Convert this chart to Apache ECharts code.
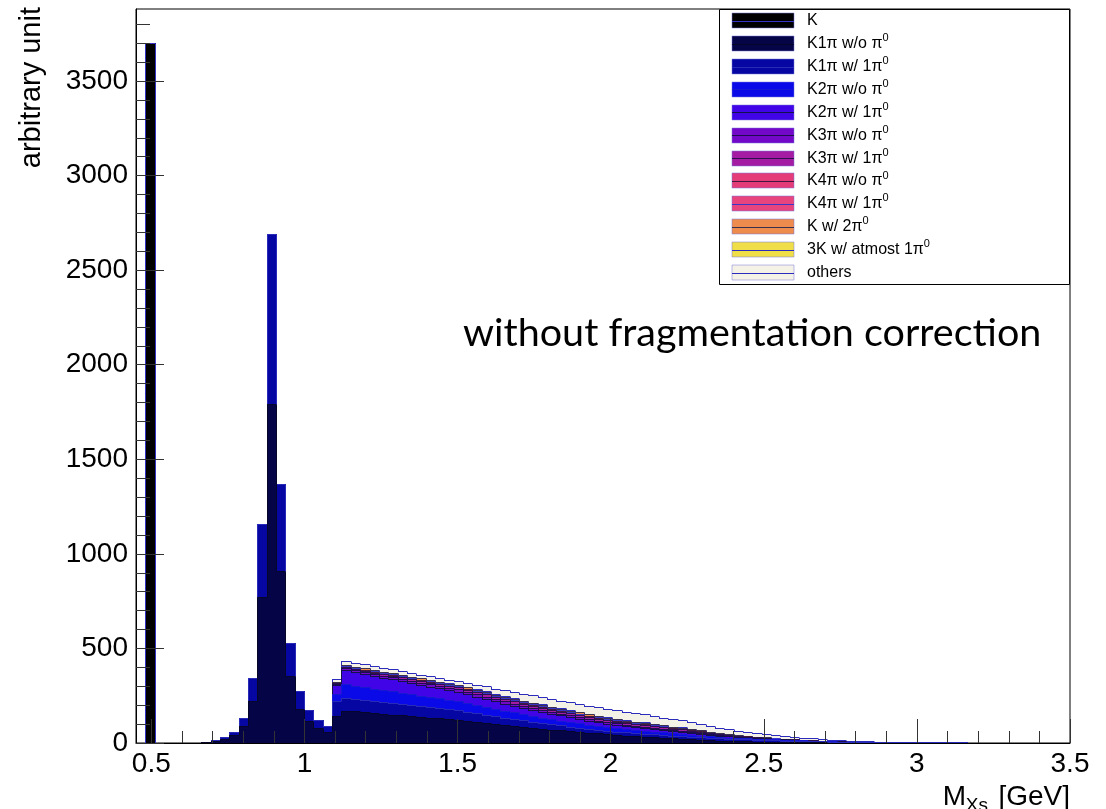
<!DOCTYPE html>
<html><head><meta charset="utf-8">
<script src="https://cdn.jsdelivr.net/npm/echarts@6/dist/echarts.min.js"></script>
<style>html,body{margin:0;padding:0;background:#fff}#c{width:1106px;height:809px}</style>
</head><body><div id="c"></div>
<script>
// ---- binning (histogram 100 bins from 0.45 to 3.5 GeV)
const BIN_LO = 0.45;
const BIN_W = 0.0305;
const NBINS = 100;
const X_MIN = 0.45, X_MAX = 3.5, Y_MIN = 0, Y_MAX = 3881;

const X_MAJOR = [0.5, 1, 1.5, 2, 2.5, 3, 3.5];
const X_MINOR = [0.5,0.6,0.7,0.8,0.9,1.0,1.1,1.2,1.3,1.4,1.5,1.6,1.7,1.8,1.9,2.0,2.1,2.2,2.3,2.4,2.5,2.6,2.7,2.8,2.9,3.0,3.1,3.2,3.3,3.4,3.5];
const Y_MAJOR = [0, 500, 1000, 1500, 2000, 2500, 3000, 3500];
const Y_MINOR = [100,200,300,400,600,700,800,900,1100,1200,1300,1400,1600,1700,1800,1900,2100,2200,2300,2400,2600,2700,2800,2900,3100,3200,3300,3400,3600,3700,3800];

const NAMES = ['K','K1π w/o π^0','K1π w/ 1π^0','K2π w/o π^0','K2π w/ 1π^0','K3π w/o π^0','K3π w/ 1π^0','K4π w/o π^0','K4π w/ 1π^0','K w/ 2π^0','3K w/ atmost 1π^0','others'];

// ---- per-bin contents (index = bin number)
const V_K = [0,3696];
const V_K1PI_NOPI0 = [0,0,0,0,0,0,0,3,10,19,38,85,217,768,1789,906,349,179,113,79,57,142,169,164,160,156,152,148,144,139,135,131,127,123,120,114,108,103,97,92,87,82,78,73,68,64,60,56,52,48,44,41,37,34,31,28,25,22,20,17,15,12,10,8,7,6,5,4,3,2,2,1,1,1];
const V_K1PI_1PI0 = [0,0,0,0,0,0,0,2,5,9,19,43,123,389,900,462,179,91,61,40,28,75,67,66,65,63,62,61,60,58,57,56,54,53,52,49,47,44,41,39,37,35,32,30,28,26,24,23,21,19,18,17,17,16,16,15,15,14,13,13,12,12,12,11,11,11,10,10,9,8,8,7,6,5,5,4,3,3,3,2,2,1.2,1.2,0.8,0.8,0.4,0.4,0.4,0.4];
const V_K2PI_NOPI0 = [0,0,0,0,0,0,0,0,0,0,0,0,0,0,0,0,0,0,0,0,0,38,71,69,67,65,63,61,60,58,56,54,52,50,48,46,44,42,39,37,35,33,31,29,28,26,24,22,21,19,18,17,16,15,15,14,13,12,12,11,10,9,8,7,6,6,5,5,4,4,3,3,2,2,2,1,1,1,1,0.5,0.4,0.3,0.3,0.2,0.2,0.1,0.1,0.1,0.1];
const V_K2PI_1PI0 = [0,0,0,0,0,0,0,0,0,0,0,0,0,0,0,0,0,0,0,0,0,47,76,73,71,68,66,64,61,59,57,55,53,50,48,46,44,42,40,38,36,34,32,31,29,27,26,24,22,21,19,19,17,17,16,15,14,13,12,11,10,8,7,6,5,4,4,3,2,2,1.5,1,1,0.6,0.45,0.25,0.2,0.1];
const V_K3PI_NOPI0 = [0,0,0,0,0,0,0,0,0,0,0,0,0,0,0,0,0,0,0,0,0,8,10,10,11,11,11,12,12,12,12,12,13,13,13,13,12,12,11,11,11,10,10,10,9,9,9,8,8,7,7,7,6,6,6,6,5,5,5,4,4,3.3,2.8,2.4,2.0,1.7,1.4,1.2,1.0,0.8,0.6,0.5,0.4,0.3,0.2,0.1];
const V_K3PI_1PI0 = [0,0,0,0,0,0,0,0,0,0,0,0,0,0,0,0,0,0,0,0,0,4,5,6,6,7,7,8,8,8,9,9,9,9,10,10,10,11,11,11,11,11,11,11,11,11,11,11,11,11,11,10,10,9,9,8,8,7,7,6,6,5.0,4.3,3.6,3.0,2.6,2.1,1.8,1.4,1.2,0.9,0.7,0.5,0.4,0.3,0.2,0.1];
const V_K4PI_NOPI0 = [0,0,0,0,0,0,0,0,0,0,0,0,0,0,0,0,0,0,0,0,0,2,3,3,3,3,3,3,3,3,3,3,3,3,3,3.3,3.4,3.5,3.6,3.6,3.7,3.7,3.8,3.8,3.8,3.7,3.7,3.7,3.7,3.6,3.5,3.4,3.2,3.1,2.9,2.8,2.6,2.5,2.3,2.1,2.0,1.7,1.4,1.2,1.0,0.9,0.7,0.6,0.5,0.4,0.3,0.2,0.2,0.1,0.1];
const V_K4PI_1PI0 = [0,0,0,0,0,0,0,0,0,0,0,0,0,0,0,0,0,0,0,0,0,1,2,2.3,2.4,2.5,2.6,2.7,2.8,2.9,3.0,3.1,3.1,3.2,3.2,3.3,3.4,3.5,3.6,3.6,3.7,3.7,3.8,3.8,3.8,3.7,3.7,3.7,3.7,3.6,3.5,3.4,3.2,3.1,2.9,2.8,2.6,2.5,2.3,2.1,2.0,1.7,1.4,1.2,1.0,0.9,0.7,0.6,0.5,0.4,0.3,0.2,0.2,0.1,0.1];
const V_K_2PI0 = [0,0,0,0,0,0,0,0,0,0,0,0,0,0,0,0,0,0,0,0,0,4,6,6.1,6.2,6.3,6.3,6.4,6.4,6.4,6.5,6.5,6.5,6.5,6.5,6.7,6.9,7.0,7.2,7.3,7.4,7.4,7.5,7.5,7.5,7.5,7.5,7.4,7.3,7.2,7.1,6.8,6.5,6.2,5.9,5.6,5.3,5.0,4.6,4.3,3.9,3.3,2.8,2.4,2.0,1.7,1.4,1.2,1.0,0.8,0.6,0.5,0.4,0.3,0.2,0.1];
const V_3K = [0,0,0,0,0,0,0,0,0,0,0,0,0,0,0,0,0,0,0,0,0,1,2.2,2.1,2.1,2.0,2.0,1.9,1.9,1.8,1.8,1.75,1.7,1.7,1.6,1.7,1.7,1.7,1.8,1.8,1.8,1.9,1.9,1.9,1.9,1.9,1.9,1.9,1.8,1.8,1.8,1.7,1.6,1.6,1.5,1.4,1.3,1.2,1.2,1.1,1.0,0.8,0.6,0.5,0.4,0.3,0.2,0.1,0.1];
const V_OTHERS = [0,0,0,0,0,0,0,0,0,0,0,0,0,0,0,0,0,0,0,0,0,13,20,20,20,20,20,19,19,19,19,19,18,18,18,21,24,27,30,32,34,36,38,40,41,42,43,44,44,44,44,44,43,43,42,41,40,39,37,35,33,31,29,26,24,23,21,19,17,16,14,12,10,8.5,7.1,5.8,4.8,3.9,3.4,2.5,2.0,1.5,1.5,1.0,1.0,0.5,0.5,0.5,0.5];

const SERIES_VALUES = [V_K,V_K1PI_NOPI0,V_K1PI_1PI0,V_K2PI_NOPI0,V_K2PI_1PI0,V_K3PI_NOPI0,V_K3PI_1PI0,V_K4PI_NOPI0,V_K4PI_1PI0,V_K_2PI0,V_3K,V_OTHERS];

// ---- styles
const FILLS = ['#000000','#040446','#0606a2','#0a0ae8','#4004e6','#7408c8','#a41ca2','#e43c78','#e8447e','#ee8c4e','#f0de48','#f4f1e6'];
const LINES = ['#3434c4','#06062a','#2a2ab8','#1818d0','#14104a','#1c0c50','#2c1050','#44183c','#3838c8','#3a3050','#2c2cc0','#2c2cbc'];
const FONT = '"Liberation Sans", Arial, Helvetica, sans-serif';

// cumulative stack
const cum = [];
for (let j = 0; j < SERIES_VALUES.length; j++) {
  const arr = [];
  for (let i = 0; i < NBINS; i++) {
    const v = SERIES_VALUES[j][i] || 0;
    arr.push((j > 0 ? cum[j-1][i] : 0) + v);
  }
  cum.push(arr);
}

function makeRender(j) {
  return function (params, api) {
    const x0 = api.value(0), top = api.value(1), prev = api.value(2), x1 = api.value(3);
    const pB = api.coord([x0, 0]);
    const pT = api.coord([x1, top]);
    const pP = api.coord([x0, prev]);
    const L = Math.round(pB[0]), R = Math.round(pT[0]);
    const B = pB[1];
    const children = [];
    if (top > 0) {
      children.push({type:'rect', shape:{x:L, y:pT[1], width:R-L, height:B-pT[1]}, style:{fill:FILLS[j]}});
      const yl = Math.floor(pT[1]) + 0.5;
      children.push({type:'line', shape:{x1:L, y1:yl, x2:R, y2:yl}, style:{stroke:LINES[j], lineWidth:1}});
    }
    if (top !== prev) {
      const ya = top > 0 ? Math.floor(pT[1]) + 0.5 : B;
      const yb = prev > 0 ? Math.floor(pP[1]) + 0.5 : B;
      children.push({type:'line', shape:{x1:L+0.5, y1:ya, x2:L+0.5, y2:yb}, style:{stroke:LINES[j], lineWidth:1}});
    }
    return {type:'group', children};
  };
}

const series = [];
for (let j = SERIES_VALUES.length - 1; j >= 0; j--) {
  const data = [];
  for (let i = 0; i <= NBINS; i++) {
    const x0 = BIN_LO + i * BIN_W;
    const top = i < NBINS ? cum[j][i] : 0;
    const prev = i > 0 ? cum[j][i-1] : 0;
    data.push([x0, top, prev, x0 + BIN_W]);
  }
  series.push({
    type:'custom', name: NAMES[j], renderItem: makeRender(j), data,
    encode:{x:[0,3], y:[1,2]}, clip:true, silent:true, animation:false
  });
}

// ---- legend (drawn as graphics)
const graphics = [];
graphics.push({type:'rect', z:50, shape:{x:719.5, y:9.5, width:350, height:275}, style:{fill:'#fff', stroke:'#000', lineWidth:1}});
for (let k = 0; k < NAMES.length; k++) {
  const yc = 20.7 + 22.9 * k;
  graphics.push({type:'rect', z:51, shape:{x:732, y:Math.round(yc-7.5), width:62, height:15}, style:{fill:FILLS[k], stroke:'rgba(120,120,220,0.5)', lineWidth:1}});
  graphics.push({type:'line', z:52, shape:{x1:732, y1:Math.round(yc)+0.5, x2:794, y2:Math.round(yc)+0.5}, style:{stroke:LINES[k], lineWidth:1}});
  const parts = NAMES[k].split('^');
  const txt = parts.length > 1 ? '{n|' + parts[0] + '}{s|' + parts[1] + '}' : '{n|' + parts[0] + '}';
  graphics.push({type:'text', z:52, x:807, y:yc, style:{text:txt, align:'left', verticalAlign:'middle', fill:'#000',
    rich:{n:{fontSize:16, fontFamily:FONT, lineHeight:22, fill:'#000'}, s:{fontSize:11, fontFamily:FONT, lineHeight:11, verticalAlign:'top', fill:'#000'}}}});
}
// axis titles & annotation
graphics.push({type:'text', z:60, x:32, y:7, rotation:Math.PI/2, style:{text:'arbitrary unit', font:'29px ' + FONT, align:'right', verticalAlign:'middle', fill:'#000'}});
graphics.push({type:'text', z:60, x:1070, y:783, style:{text:'[GeV]', font:'28px ' + FONT, align:'right', verticalAlign:'top', fill:'#000'}});
graphics.push({type:'text', z:60, x:988, y:796, style:{text:'Xs', font:'19px ' + FONT, align:'right', verticalAlign:'top', fill:'#000'}});
graphics.push({type:'text', z:60, x:966, y:783, style:{text:'M', font:'28px ' + FONT, align:'right', verticalAlign:'top', fill:'#000'}});
graphics.push({type:'text', z:60, x:463, y:333, style:{text:'without fragmentation correction', font:'39.5px Lato, "Open Sans", sans-serif', align:'left', verticalAlign:'middle', fill:'#000'}});

const chart = echarts.init(document.getElementById('c'), null, {renderer:'canvas'});
chart.setOption({
  animation:false,
  backgroundColor:'#fff',
  grid:{left:136, top:9, right:36, bottom:66, show:true, borderColor:'#000', borderWidth:1, backgroundColor:'transparent'},
  xAxis:[
    {type:'value', min:X_MIN, max:X_MAX, position:'bottom', z:10,
     axisLine:{show:true, lineStyle:{color:'#000', width:1}},
     axisTick:{show:true, inside:true, length:24, customValues:X_MAJOR, lineStyle:{color:'#333'}},
     axisLabel:{show:true, customValues:X_MAJOR, margin:7, fontSize:28, fontFamily:FONT, color:'#000', formatter:(v)=>String(v)},
     splitLine:{show:false}},
    {type:'value', min:X_MIN, max:X_MAX, position:'bottom', z:10,
     axisLine:{show:false},
     axisTick:{show:true, inside:true, length:12, customValues:X_MINOR, lineStyle:{color:'#333'}},
     axisLabel:{show:false}, splitLine:{show:false}}
  ],
  yAxis:[
    {type:'value', min:Y_MIN, max:Y_MAX, position:'left', z:10,
     axisLine:{show:true, lineStyle:{color:'#000', width:1}},
     axisTick:{show:true, inside:true, length:28, customValues:Y_MAJOR, lineStyle:{color:'#333'}},
     axisLabel:{show:true, customValues:Y_MAJOR, margin:8, fontSize:28, fontFamily:FONT, color:'#000', formatter:(v)=>String(v)},
     splitLine:{show:false}},
    {type:'value', min:Y_MIN, max:Y_MAX, position:'left', z:10,
     axisLine:{show:false},
     axisTick:{show:true, inside:true, length:14, customValues:Y_MINOR, lineStyle:{color:'#333'}},
     axisLabel:{show:false}, splitLine:{show:false}}
  ],
  series,
  graphic:graphics
});
</script>
</body></html>
